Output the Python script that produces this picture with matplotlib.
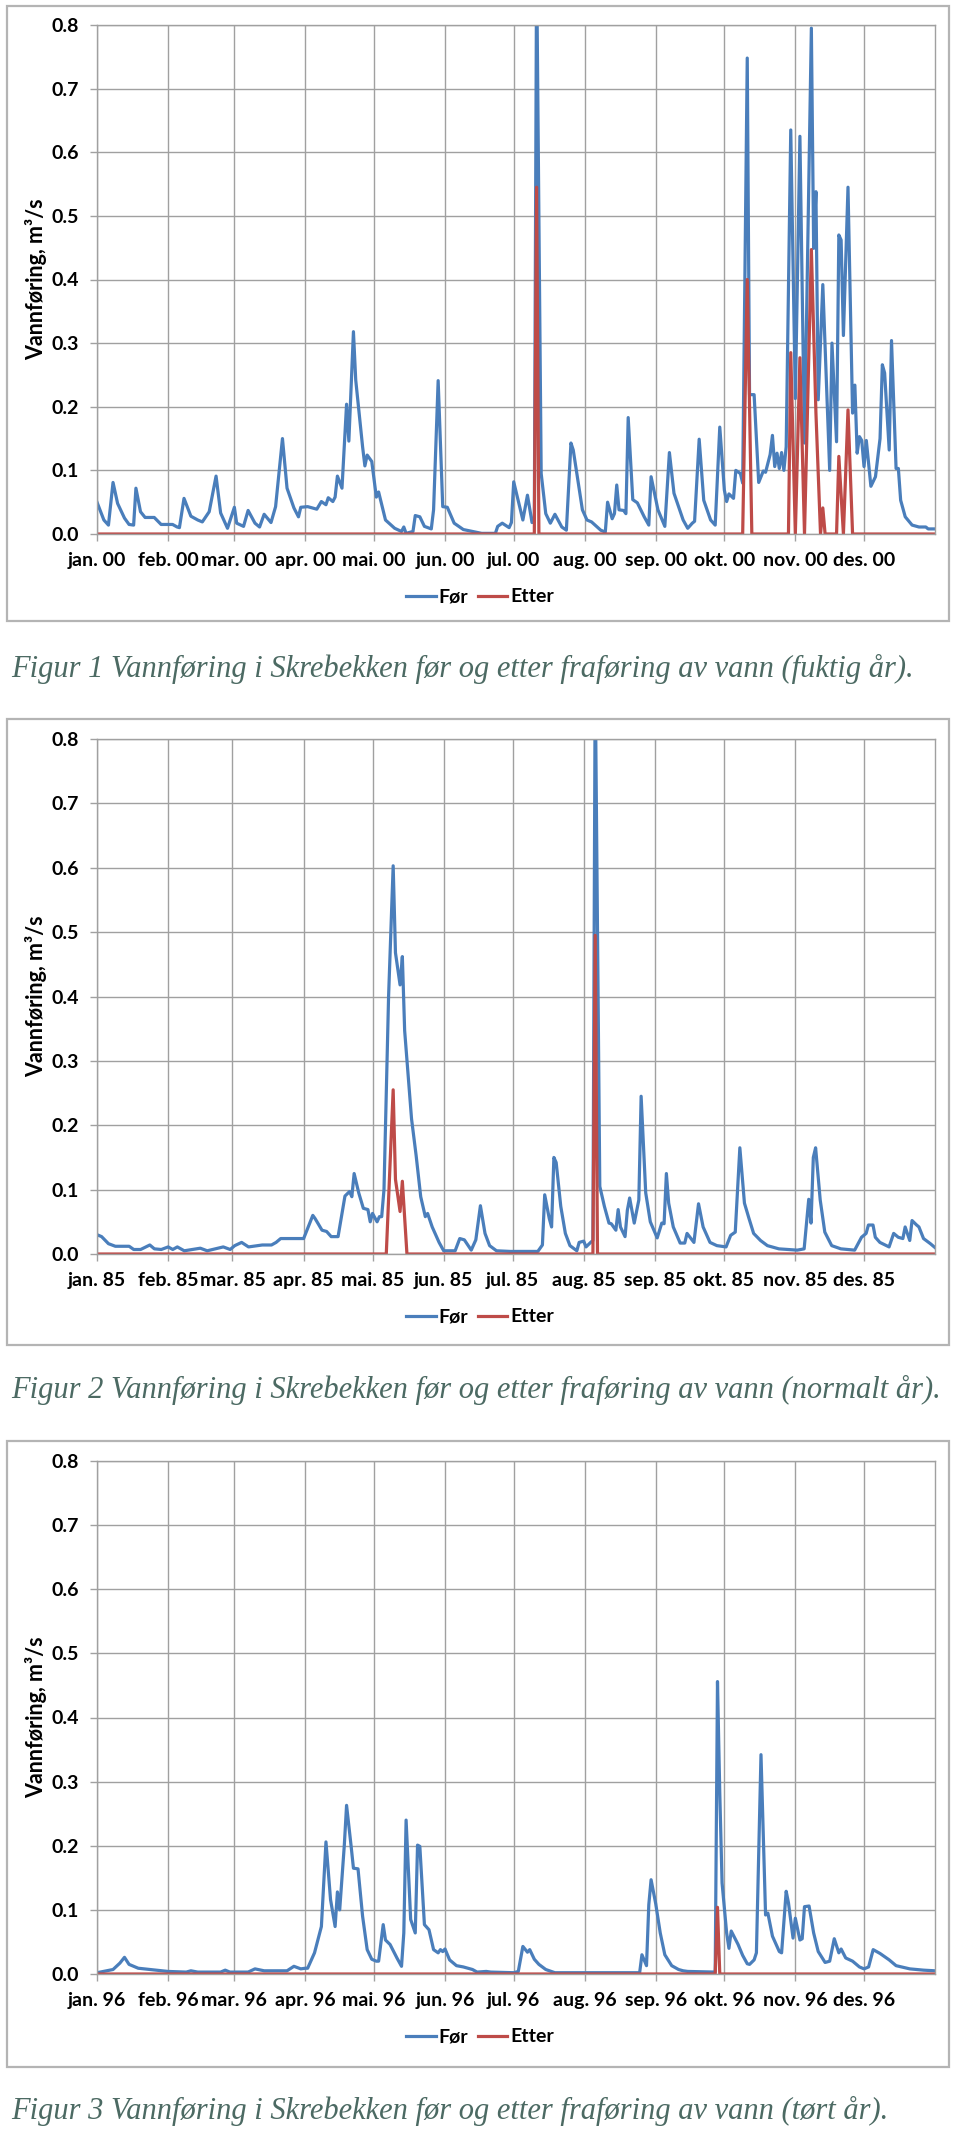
import matplotlib
matplotlib.use('Agg')
import matplotlib.pyplot as plt
from matplotlib.patches import Rectangle

plt.rcParams['font.family'] = ['Lato', 'DejaVu Sans']

W, H = 960, 2135

# month starts (day of year) and tick labels
starts_leap = [0, 31, 60, 91, 121, 152, 182, 213, 244, 274, 305, 335]
starts_norm = [0, 31, 59, 90, 120, 151, 181, 212, 243, 273, 304, 334]
months = ['jan.', 'feb.', 'mar.', 'apr.', 'mai.', 'jun.', 'jul.', 'aug.', 'sep.', 'okt.', 'nov.', 'des.']
labels_00 = [m + ' 00' for m in months]
labels_85 = [m + ' 85' for m in months]
labels_96 = [m + ' 96' for m in months]

# Figur 1 - fuktig år (2000)
dag_for_00 = [0, 3, 5, 7, 9, 12, 14, 16, 17, 19, 21, 25, 28, 33, 35, 36, 38, 41, 44, 46,
              49, 52, 54, 57, 60, 61, 64, 66, 69, 71, 73, 76, 78, 81, 83, 86, 88, 89, 92, 96,
              98, 100, 101, 103, 104, 105, 107, 109, 110, 112, 113, 116, 117, 118, 120, 122, 123, 126, 130, 133,
              134, 135, 138, 139, 141, 143, 146, 147, 149, 151, 153, 156, 160, 164, 168, 174, 175, 177, 180, 181,
              182, 186, 188, 190, 191, 192, 194, 196, 198, 200, 203, 205, 207, 208, 212, 214, 216, 220, 222, 223,
              225, 226, 227, 228, 230, 231, 232, 234, 236, 239, 241, 242, 245, 248, 250, 252, 256, 258, 260, 261,
              263, 265, 268, 270, 272, 274, 275, 276, 278, 279, 281, 282, 284, 285, 287, 289, 291, 292, 294, 295,
              296, 297, 298, 299, 300, 301, 303, 305, 307, 309, 312, 313, 314, 315, 317, 320, 321, 323, 324, 325,
              326, 328, 330, 331, 332, 333, 334, 335, 336, 338, 340, 342, 343, 344, 346, 347, 349, 350, 351, 353,
              356, 359, 362, 363, 366]
for_00 = [0.050, 0.022, 0.014, 0.081, 0.048, 0.025, 0.015, 0.014, 0.072, 0.035, 0.026, 0.026, 0.015, 0.015, 0.011, 0.010, 0.056, 0.028, 0.022, 0.019,
          0.035, 0.091, 0.033, 0.009, 0.042, 0.017, 0.012, 0.037, 0.017, 0.011, 0.031, 0.018, 0.043, 0.150, 0.072, 0.041, 0.027, 0.042, 0.043, 0.039,
          0.051, 0.046, 0.057, 0.051, 0.058, 0.091, 0.072, 0.204, 0.146, 0.318, 0.242, 0.137, 0.107, 0.124, 0.114, 0.058, 0.066, 0.022, 0.009, 0.004,
          0.011, 0.001, 0.004, 0.029, 0.027, 0.012, 0.008, 0.038, 0.241, 0.043, 0.042, 0.017, 0.007, 0.004, 0.001, 0.001, 0.012, 0.017, 0.010, 0.018,
          0.082, 0.022, 0.061, 0.018, 0.020, 0.900, 0.095, 0.032, 0.017, 0.031, 0.011, 0.006, 0.143, 0.132, 0.038, 0.022, 0.019, 0.006, 0.003, 0.050,
          0.024, 0.032, 0.077, 0.038, 0.037, 0.032, 0.183, 0.054, 0.049, 0.027, 0.014, 0.090, 0.038, 0.012, 0.128, 0.064, 0.022, 0.009, 0.017, 0.020,
          0.149, 0.053, 0.022, 0.014, 0.168, 0.069, 0.051, 0.063, 0.056, 0.100, 0.095, 0.080, 0.748, 0.219, 0.219, 0.081, 0.099, 0.097, 0.125, 0.155,
          0.106, 0.127, 0.103, 0.128, 0.100, 0.137, 0.635, 0.213, 0.625, 0.143, 0.795, 0.449, 0.538, 0.211, 0.392, 0.100, 0.300, 0.145, 0.470, 0.462,
          0.312, 0.545, 0.190, 0.234, 0.127, 0.153, 0.147, 0.106, 0.147, 0.075, 0.090, 0.150, 0.266, 0.253, 0.132, 0.304, 0.103, 0.103, 0.053, 0.027,
          0.014, 0.011, 0.011, 0.008, 0.008]
dag_etter_00 = [0, 191, 192, 193, 282, 284, 286, 302, 303, 305, 307, 309, 312, 314, 316, 317, 318, 323, 324, 326, 328, 330, 366]
etter_00 = [0, 0, 0.545, 0, 0, 0.400, 0, 0, 0.285, 0, 0.277, 0, 0.447, 0.190, 0, 0.041, 0, 0, 0.122, 0, 0.195, 0, 0]

# Figur 2 - normalt år (1985)
dag_for_85 = [0, 2, 5, 8, 14, 16, 19, 23, 25, 28, 31, 33, 35, 38, 45, 48, 55, 58, 60, 63,
              66, 70, 72, 76, 78, 80, 90, 94, 95, 98, 100, 102, 105, 108, 110, 111, 112, 114, 116, 118,
              119, 120, 122, 123, 124, 125, 127, 129, 130, 132, 133, 134, 137, 139, 141, 143, 144, 146, 149, 151,
              156, 158, 160, 163, 165, 167, 169, 171, 174, 180, 192, 194, 195, 197, 198, 199, 200, 202, 204, 206,
              209, 210, 212, 213, 215, 216, 217, 219, 221, 223, 224, 226, 227, 228, 230, 231, 232, 234, 236, 237,
              239, 241, 244, 246, 247, 248, 249, 251, 254, 256, 257, 260, 262, 264, 267, 270, 274, 276, 278, 280,
              282, 284, 286, 289, 292, 297, 305, 308, 310, 311, 312, 313, 315, 317, 320, 324, 330, 333, 335, 336,
              338, 339, 341, 345, 347, 349, 351, 352, 354, 355, 357, 358, 360, 363, 365]
for_85 = [0.030, 0.027, 0.016, 0.012, 0.012, 0.007, 0.007, 0.014, 0.008, 0.007, 0.011, 0.007, 0.011, 0.005, 0.009, 0.005, 0.011, 0.007, 0.013, 0.018,
          0.011, 0.013, 0.014, 0.014, 0.018, 0.024, 0.024, 0.060, 0.055, 0.037, 0.035, 0.027, 0.027, 0.090, 0.097, 0.089, 0.125, 0.095, 0.071, 0.069,
          0.050, 0.063, 0.050, 0.058, 0.058, 0.100, 0.400, 0.603, 0.468, 0.418, 0.462, 0.347, 0.210, 0.153, 0.089, 0.058, 0.063, 0.042, 0.018, 0.005,
          0.005, 0.024, 0.022, 0.006, 0.022, 0.075, 0.032, 0.013, 0.005, 0.004, 0.004, 0.014, 0.092, 0.055, 0.042, 0.150, 0.142, 0.074, 0.032, 0.013,
          0.005, 0.018, 0.020, 0.011, 0.018, 0.021, 0.900, 0.105, 0.074, 0.048, 0.047, 0.037, 0.069, 0.042, 0.027, 0.068, 0.087, 0.048, 0.084, 0.245,
          0.095, 0.050, 0.025, 0.048, 0.047, 0.125, 0.079, 0.042, 0.017, 0.017, 0.032, 0.018, 0.078, 0.042, 0.018, 0.013, 0.011, 0.029, 0.034, 0.165,
          0.079, 0.055, 0.032, 0.021, 0.013, 0.008, 0.006, 0.008, 0.085, 0.048, 0.150, 0.165, 0.084, 0.034, 0.013, 0.008, 0.006, 0.026, 0.032, 0.045,
          0.045, 0.026, 0.018, 0.011, 0.032, 0.026, 0.024, 0.042, 0.021, 0.052, 0.045, 0.042, 0.024, 0.016, 0.010]
dag_etter_85 = [0, 126, 129, 130, 132, 133, 135, 216, 217, 218, 365]
etter_85 = [0, 0, 0.255, 0.116, 0.066, 0.113, 0, 0, 0.495, 0, 0]

# Figur 3 - tørt år (1996)
dag_for_96 = [0, 7, 10, 12, 14, 18, 26, 31, 39, 41, 44, 54, 56, 58, 66, 69, 73, 83, 86, 89,
              91, 92, 95, 98, 100, 102, 104, 105, 106, 108, 109, 111, 112, 114, 116, 118, 120, 122, 123, 125,
              126, 128, 131, 133, 134, 135, 137, 139, 140, 141, 143, 145, 147, 149, 150, 151, 152, 154, 157, 160,
              164, 166, 170, 172, 182, 184, 186, 188, 189, 191, 193, 196, 200, 237, 238, 240, 241, 242, 244, 246,
              248, 251, 254, 256, 258, 270, 271, 272, 273, 275, 276, 277, 280, 282, 284, 285, 287, 288, 290, 292,
              293, 295, 298, 299, 301, 302, 304, 305, 307, 308, 309, 311, 313, 315, 318, 320, 322, 324, 325, 327,
              330, 333, 335, 337, 339, 342, 346, 349, 355, 361, 366]
for_96 = [0.002, 0.007, 0.017, 0.026, 0.015, 0.009, 0.006, 0.004, 0.003, 0.005, 0.003, 0.003, 0.006, 0.003, 0.003, 0.008, 0.005, 0.005, 0.012, 0.008,
          0.009, 0.009, 0.033, 0.074, 0.206, 0.116, 0.074, 0.128, 0.100, 0.200, 0.263, 0.199, 0.165, 0.164, 0.090, 0.038, 0.023, 0.020, 0.020, 0.077,
          0.053, 0.046, 0.025, 0.012, 0.064, 0.240, 0.085, 0.064, 0.201, 0.199, 0.077, 0.069, 0.038, 0.033, 0.038, 0.035, 0.039, 0.022, 0.013, 0.011,
          0.007, 0.003, 0.004, 0.003, 0.002, 0.004, 0.043, 0.034, 0.038, 0.023, 0.015, 0.007, 0.002, 0.002, 0.030, 0.013, 0.108, 0.147, 0.110, 0.064,
          0.030, 0.013, 0.007, 0.005, 0.004, 0.003, 0.456, 0.282, 0.142, 0.064, 0.040, 0.067, 0.046, 0.029, 0.016, 0.015, 0.022, 0.033, 0.342, 0.092,
          0.095, 0.059, 0.035, 0.033, 0.129, 0.111, 0.056, 0.087, 0.053, 0.055, 0.105, 0.106, 0.064, 0.035, 0.018, 0.020, 0.055, 0.033, 0.039, 0.025,
          0.020, 0.011, 0.008, 0.011, 0.038, 0.032, 0.022, 0.013, 0.008, 0.006, 0.005]
dag_etter_96 = [0, 270, 271, 272, 366]
etter_96 = [0, 0, 0.104, 0, 0]

captions = [
    'Figur 1 Vannføring i Skrebekken før og etter fraføring av vann (fuktig år).',
    'Figur 2 Vannføring i Skrebekken før og etter fraføring av vann (normalt år).',
    'Figur 3 Vannføring i Skrebekken før og etter fraføring av vann (tørt år).',
]

BLUE = '#4a7ebb'
RED = '#be4b48'
GRID = '#a0a0a0'

fig = plt.figure(figsize=(W / 100, H / 100), dpi=100)
fig.patch.set_facecolor('white')


def px(x, y):
    # pixel position (from top-left) to figure fraction
    return x / W, 1 - y / H


def panel(frame_top, frame_bot, plot_top, plot_bot, cap_y, caption,
          dag_for, q_for, dag_etter, q_etter, starts, labels, ndays):
    # gray frame around each chart
    x0, y0 = px(7, frame_bot)
    fig.patches.append(Rectangle((x0, y0), (949 - 7) / W, (frame_bot - frame_top) / H,
                                 transform=fig.transFigure, fill=False,
                                 edgecolor='#b4b4b4', lw=1.6))

    left, bottom = px(97, plot_bot)
    ax = fig.add_axes([left, bottom, (935 - 97) / W, (plot_bot - plot_top) / H])
    ax.plot(dag_for, q_for, color=BLUE, lw=2.3, label='Før', solid_joinstyle='round')
    ax.plot(dag_etter, q_etter, color=RED, lw=2.3, label='Etter', solid_joinstyle='round')

    ax.set_xlim(0, ndays)
    ax.set_ylim(0, 0.8)
    ax.set_xticks(starts)
    ax.set_xticklabels(labels)
    ax.set_yticks([i / 10 for i in range(9)])
    ax.set_yticklabels(['%.1f' % (i / 10) for i in range(9)])
    ax.grid(True, color=GRID, lw=1.0)
    ax.set_axisbelow(True)
    for s in ax.spines.values():
        s.set_color(GRID)
        s.set_linewidth(1.0)
    ax.tick_params(axis='both', direction='out', color=GRID, length=5, width=1.0,
                   labelsize=14, labelcolor='black')
    ax.tick_params(axis='y', pad=8)
    ax.tick_params(axis='x', pad=8)
    for t in ax.get_xticklabels() + ax.get_yticklabels():
        t.set_fontweight('bold')

    fig.text(36 / W, 1 - (plot_top + plot_bot) / 2 / H, 'Vannføring, m³/s',
             rotation=90, ha='center', va='center', fontsize=15.5, fontweight='bold')

    leg = fig.legend(*ax.get_legend_handles_labels(), loc='center',
                     bbox_to_anchor=px(480, plot_bot + 63), ncol=2, frameon=False,
                     handlelength=1.5, handletextpad=0.15, columnspacing=0.5,
                     prop={'weight': 'bold', 'size': 14})
    for line in leg.get_lines():
        line.set_linewidth(2.3)

    fig.text(11 / W, 1 - cap_y / H, caption, ha='left', va='baseline',
             family=['Liberation Serif', 'DejaVu Serif'], style='italic',
             fontsize=22, color='#4c6a63')
    return ax


panel(6, 621, 25, 534, 677, captions[0], dag_for_00, for_00, dag_etter_00, etter_00,
      starts_leap, labels_00, 366)
panel(719, 1345, 739, 1254, 1398, captions[1], dag_for_85, for_85, dag_etter_85, etter_85,
      starts_norm, labels_85, 365)
panel(1441, 2067, 1461, 1974, 2119, captions[2], dag_for_96, for_96, dag_etter_96, etter_96,
      starts_leap, labels_96, 366)

fig.savefig('out.png', dpi=100, facecolor='white')
